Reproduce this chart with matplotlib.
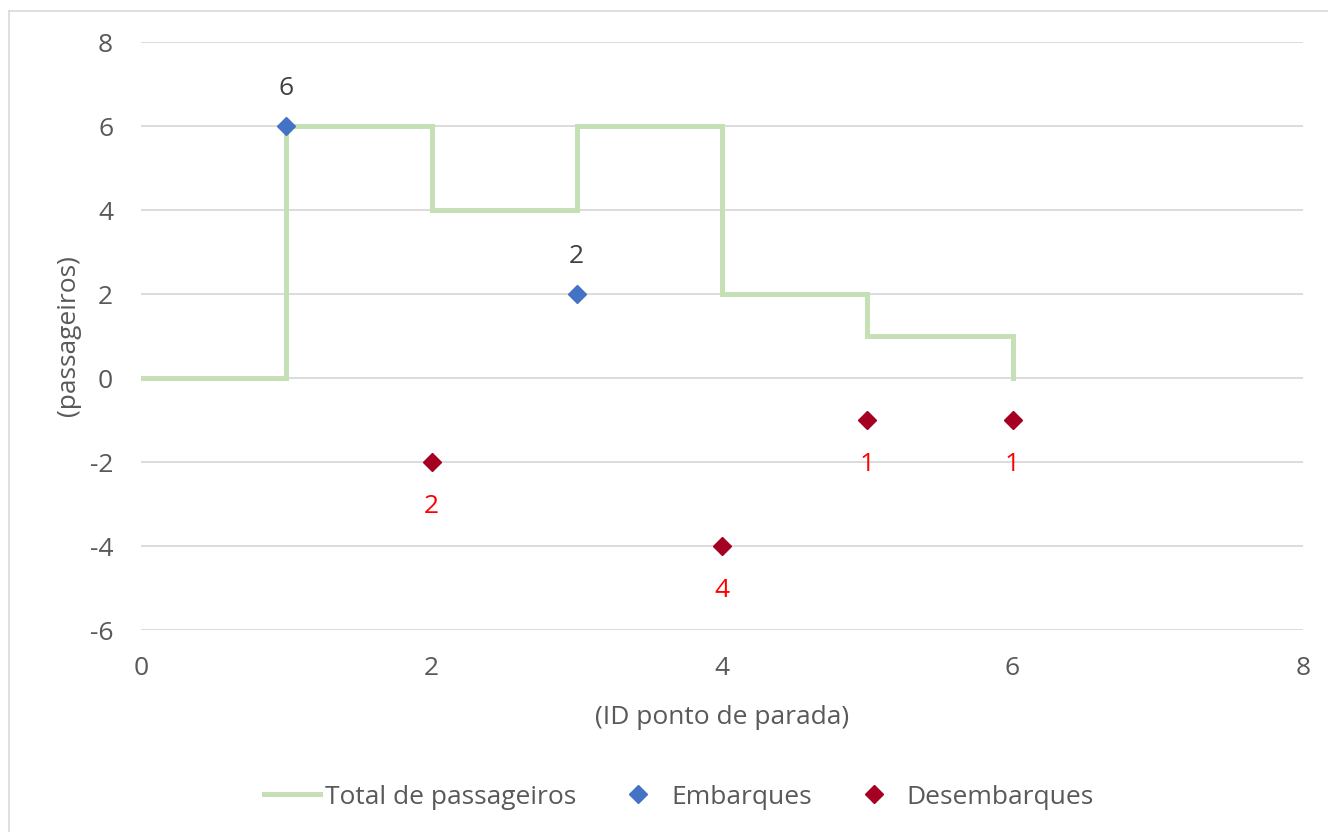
import matplotlib
matplotlib.use("Agg")
import matplotlib.pyplot as plt
from matplotlib.lines import Line2D

# data
stops = [0, 1, 2, 3, 4, 5, 6]
total_passageiros = [0, 6, 4, 6, 2, 1, 0]
emb_x = [1, 3]
emb_y = [6, 2]
emb_labels = ["6", "2"]
des_x = [2, 4, 5, 6]
des_y = [-2, -4, -1, -1]
des_labels = ["2", "4", "1", "1"]

plt.rcParams["font.family"] = ["Open Sans", "DejaVu Sans"]
plt.rcParams["axes.unicode_minus"] = False
txt = "#595959"
grid_c = "#d9d9d9"
fs = 19

fig = plt.figure(figsize=(13.28, 8.32), dpi=100)
ax = fig.add_axes([141 / 1328, 1 - 630 / 832, (1303 - 141) / 1328, (630 - 42) / 832])

ax.plot(stops, total_passageiros, drawstyle="steps-post", color="#c5e0b4",
        lw=3.6, solid_joinstyle="miter", zorder=2, label="Total de passageiros")
ax.plot(emb_x, emb_y, ls="none", marker="D", ms=9.5, color="#4472c4",
        zorder=3, label="Embarques")
ax.plot(des_x, des_y, ls="none", marker="D", ms=9.5, color="#a50021",
        zorder=3, label="Desembarques")

for x, y, s in zip(emb_x, emb_y, emb_labels):
    ax.annotate(s, (x, y), xytext=(0, 27), textcoords="offset points",
                ha="center", va="center", fontsize=fs, color="#404040")
for x, y, s in zip(des_x, des_y, des_labels):
    ax.annotate(s, (x, y), xytext=(0, -32), textcoords="offset points",
                ha="center", va="center", fontsize=fs, color="#ff0000")

ax.set_xlim(0, 8)
ax.set_ylim(-6, 8)
ax.set_xticks(range(0, 9, 2))
ax.set_yticks(range(-6, 9, 2))
ax.grid(True, axis="y", color=grid_c, lw=1.3)
ax.set_axisbelow(True)
for sp in ax.spines.values():
    sp.set_visible(False)
ax.tick_params(length=0, labelsize=fs, labelcolor=txt)
ax.tick_params(axis="y", pad=20)
ax.tick_params(axis="x", pad=19)
ax.set_xlabel("(ID ponto de parada)", fontsize=fs, color=txt, va="center")
ax.set_ylabel("(passageiros)", fontsize=fs, color=txt, va="center")
ax.xaxis.set_label_coords(0.5, (630 - 718) / 588)
ax.yaxis.set_label_coords((68 - 141) / 1162, 0.5)

ax.legend(loc="center", bbox_to_anchor=(679 / 1328, 1 - 797 / 832),
          bbox_transform=fig.transFigure, ncol=3, frameon=False,
          fontsize=fs, labelcolor=txt, handlelength=2.1, handletextpad=0.2,
          columnspacing=1.3)

# chart area border (cropped)
fig.add_artist(Line2D([9 / 1328, 1], [1 - 11 / 832, 1 - 11 / 832],
                      transform=fig.transFigure, color=grid_c, lw=1.2))
fig.add_artist(Line2D([9 / 1328, 9 / 1328], [0, 1 - 11 / 832],
                      transform=fig.transFigure, color=grid_c, lw=1.2))

fig.savefig("out.png", dpi=100)
